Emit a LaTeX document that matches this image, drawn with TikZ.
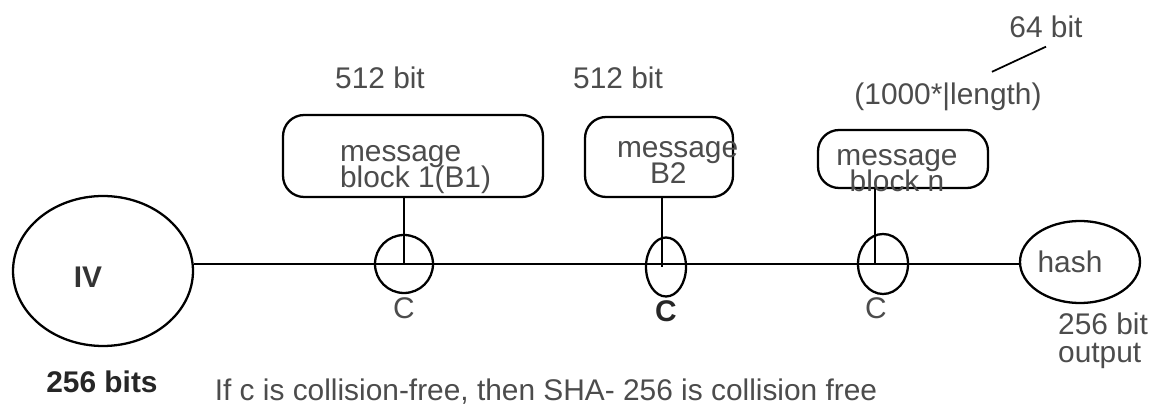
\documentclass[tikz,border=0pt]{standalone}
\usepackage{fontspec}
\setmainfont{Liberation Sans}
\usetikzlibrary{arrows,shapes}
\tikzstyle{msgbox} = [rectangle, rounded corners=12pt, draw=black, line width=1.3pt, text=black!70, inner sep=0pt, font=\fontsize{17}{17}\selectfont]
\tikzstyle{iv} = [ellipse, draw=black, line width=1.3pt, minimum width=3.6cm, minimum height=3cm, text=black!80, font=\fontsize{17}{17}\selectfont\bfseries]
\tikzstyle{comp} = [ellipse, draw=black, line width=1.3pt, inner sep=0pt]
\tikzstyle{lbl} = [text=black!70, font=\fontsize{17}{17}\selectfont]
\tikzstyle{boldlbl} = [text=black!85, font=\fontsize{17}{17}\selectfont\bfseries]
\tikzstyle{line} = [line width=1.3pt]

\begin{document}
\begin{tikzpicture}[x=0.02cm, y=-0.02cm, node distance=0.88cm]
\useasboundingbox (0,0) rectangle (1149,408);
\node (iv) [iv] at (103,271) {\hspace*{-0.6cm}\raisebox{-0.33cm}[0pt][0pt]{IV}};
\node (c1) [comp, minimum width=1.16cm, minimum height=1.16cm] at (404,264) {};
\node (c2) [comp, minimum width=0.8cm, minimum height=1.18cm] at (666,267) {};
\node (c3) [comp, minimum width=1cm, minimum height=1.2cm] at (883,264) {};
\node (hash) [comp, lbl, minimum width=2.4cm, minimum height=1.64cm] at (1080,262) {\hspace*{-0.4cm}hash};
% message blocks, text pushed down a little
\node (b1) [msgbox, minimum width=5.2cm, minimum height=1.64cm] at (413,156)
  {\raisebox{-0.42cm}[0pt][0pt]{\hspace*{0.28cm}\parbox{3.2cm}{\raggedright message\\[-2pt]block 1(B1)}}};
\node (b2) [msgbox, minimum width=2.96cm, minimum height=1.6cm] at (659,157)
  {\raisebox{-0.26cm}[0pt][0pt]{\parbox{1.68cm}{\raggedright message\\[-2pt]\hspace*{0.66cm}B2}}};
\node (b3) [msgbox, minimum width=3.4cm, minimum height=1.16cm] at (903,159)
  {\raisebox{-0.38cm}[0pt][0pt]{\parbox{3cm}{\centering\hspace*{-0.24cm}message\\[-2pt]\hspace*{-0.24cm}block n}}};

\node (cl1) [lbl, below of=c1] {C};
\node (cl2) [boldlbl, below of=c2] {C};
\node (cl3) [lbl, below of=c3, xshift=-0.14cm] {C};
\node (ivbits) [boldlbl] at (102,382) {256 bits};
\node (out) [lbl, align=left] at (1103,341) {256 bit\\[-1pt]output};
\node (s1) [lbl] at (380,78) {512 bit};
\node (s2) [lbl] at (618,78) {512 bit};
\node (len) [lbl] at (948,97) {(1000*|length)};
\node (b64) [lbl] at (1046,27) {64 bit};
\node (note) [lbl] at (546,392) {If c is collision-free, then SHA- 256 is collision free};

\draw [line] (c1 -| iv.east) -- (c1 -| hash.west);
\draw [line] (c1.center |- b1.south) -- (c1.center);
\draw [line] ([xshift=-0.08cm]c2.center |- b2.south) -- ([xshift=-0.08cm]c2.center);
\draw [line] ([xshift=-0.16cm]c3.center |- b3.south) -- ([xshift=-0.16cm]c3.center);
\draw [line, line width=1pt] ([xshift=0.88cm, yshift=0.1cm]len.north) -- ([yshift=-0.05cm]b64.south);
\end{tikzpicture}
\end{document}
